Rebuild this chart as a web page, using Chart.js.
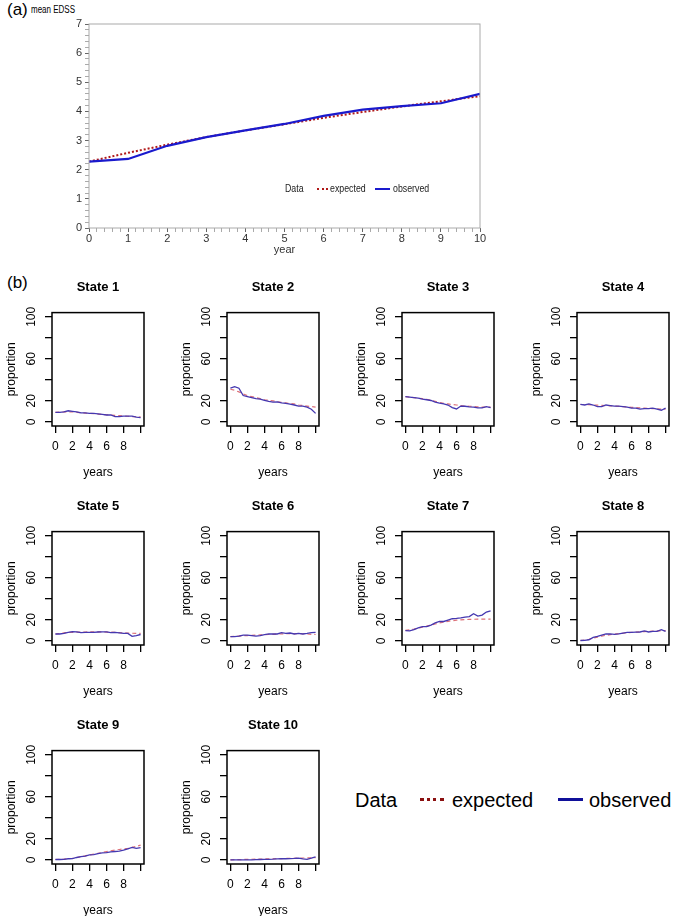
<!DOCTYPE html>
<html>
<head>
<meta charset="utf-8">
<script src="https://cdn.jsdelivr.net/npm/chart.js@4"></script>
<style>
  html, body { margin: 0; padding: 0; background: #fff; overflow: hidden; }
  body { width: 677px; height: 916px; position: relative; font-family: "Liberation Sans", Arial, sans-serif; }
  canvas { position: absolute; }
  .lbl { position: absolute; color: #000; white-space: nowrap; line-height: 1; }
  .narrow { transform: scaleX(0.8); transform-origin: 0 0; font-size: 11px; color: #222; }
  .swatch { position: absolute; height: 0; }
</style>
</head>
<body>
<div class="lbl" style="left:7px;top:1px;font-size:17px">(a)</div>
<div class="lbl narrow" style="left:31px;top:5px;font-size:10px;color:#000">mean EDSS</div>
<canvas id="edss" width="500" height="260" style="left:0;top:0"></canvas>

<div class="lbl narrow" style="left:285px;top:183px">Data</div>
<div class="swatch" style="left:317px;top:188px;width:11px;border-top:2px dotted #b01818"></div>
<div class="lbl narrow" style="left:330px;top:183px">expected</div>
<div class="swatch" style="left:375px;top:188px;width:15px;border-top:2px solid #1a1acd"></div>
<div class="lbl narrow" style="left:393px;top:183px">observed</div>

<div class="lbl" style="left:7px;top:274px;font-size:17px">(b)</div>
<div id="states"></div>

<div class="lbl" style="left:355px;top:790px;font-size:20px">Data</div>
<div class="swatch" style="left:420px;top:798px;width:24px;border-top:3px dotted #8b1010"></div>
<div class="lbl" style="left:452px;top:790px;font-size:20px">expected</div>
<div class="swatch" style="left:558px;top:798px;width:25px;border-top:3px solid #10109a"></div>
<div class="lbl" style="left:589px;top:790px;font-size:20px">observed</div>

<script>
(function () {
  'use strict';

  // (a) mean EDSS by year
  var years = [0, 1, 2, 3, 4, 5, 6, 7, 8, 9, 10];
  var edssExpected = [2.28, 2.58, 2.86, 3.12, 3.35, 3.56, 3.78, 3.98, 4.17, 4.35, 4.52];
  var edssObserved = [2.28, 2.37, 2.82, 3.12, 3.35, 3.57, 3.85, 4.06, 4.18, 4.28, 4.60];

  // (b) proportion in each state, read every half year
  var halfYears = [0, 0.5, 1, 1.5, 2, 2.5, 3, 3.5, 4, 4.5, 5, 5.5, 6, 6.5, 7, 7.5, 8, 8.5, 9, 9.5, 10];
  var stateNames = ['State 1', 'State 2', 'State 3', 'State 4', 'State 5', 'State 6', 'State 7', 'State 8', 'State 9', 'State 10'];

  var state1Obs = [9, 9, 9.5, 10.5, 10, 9.5, 8.5, 8.5, 8, 8, 7.5, 7, 6.5, 6.5, 5, 5, 5.5, 5.5, 5.5, 4.5, 4];
  var state1Exp = [9, 9.2, 9.4, 9.6, 9.4, 9, 8.6, 8.3, 8, 7.7, 7.4, 7, 6.7, 6.4, 6.1, 5.8, 5.5, 5.3, 5, 4.8, 4.6];
  var state2Obs = [32, 33.5, 32, 25, 24, 23, 22, 21.5, 20.5, 19.5, 18.7, 19, 18, 17.5, 16.8, 16, 15, 15, 14, 12, 8];
  var state2Exp = [31, 30, 28.5, 26.5, 25, 24, 23, 22, 21, 20.5, 20, 19, 18.5, 18, 17.5, 17, 16, 15.5, 15, 14.5, 14];
  var state3Obs = [24, 23.5, 23, 22.5, 21.6, 21, 20.3, 18.7, 17.7, 17, 16, 13.5, 12.2, 15, 14.8, 14.2, 13.9, 13.2, 13.2, 14.5, 13.5];
  var state3Exp = [24, 23.5, 23, 22.5, 22, 21.5, 20.5, 19.5, 18.5, 17.5, 17, 16.5, 16, 15.5, 15, 14.8, 14.5, 14.2, 14, 14, 14];
  var state4Obs = [16.5, 16, 17, 16, 14.5, 14.5, 16, 15.5, 15, 15, 14.5, 14, 13, 13, 12, 12.5, 12.6, 13, 12, 11, 13];
  var state4Exp = [16.5, 16.5, 16.3, 16, 15.8, 15.6, 15.4, 15.2, 15, 14.7, 14.4, 14.1, 13.8, 13.5, 13.2, 13, 12.8, 12.6, 12.4, 12.2, 12];
  var state5Obs = [6.5, 6.5, 7, 8, 8.7, 8.5, 7.7, 8, 8, 8, 8.4, 8.5, 8.5, 7.7, 8, 7.5, 7, 7, 4.2, 5, 6];
  var state5Exp = [6.5, 7, 7.5, 8, 8, 8.2, 8.3, 8.4, 8.5, 8.5, 8.5, 8.5, 8.3, 8.2, 8, 7.8, 7.6, 7.4, 7.2, 7, 7];
  var state6Obs = [3.9, 4, 4.5, 5.5, 5.5, 5, 4.5, 5, 5.8, 6.5, 6.5, 6.5, 7.7, 7, 7.4, 6.5, 7, 6.5, 7, 7.7, 8];
  var state6Exp = [4, 4.2, 4.5, 4.8, 5, 5.2, 5.4, 5.6, 5.8, 6, 6.2, 6.4, 6.6, 6.8, 6.8, 6.8, 6.8, 6.7, 6.5, 6.2, 6];
  var state7Obs = [9.7, 9.5, 10.6, 12.3, 13.5, 13.5, 15, 17, 18.4, 18.4, 19.7, 21, 21.3, 21.9, 22.6, 23, 25.8, 23.5, 24.5, 27.4, 28.5];
  var state7Exp = [10, 10.5, 11.2, 12, 13, 14, 15, 16, 17, 17.8, 18.5, 19.2, 19.6, 20, 20.2, 20.4, 20.5, 20.6, 20.6, 20.7, 20.7];
  var state8Obs = [0.3, 0.5, 1, 3.2, 4.2, 5.5, 6.5, 6.5, 6.1, 6.5, 7.4, 8, 8, 8.2, 8.4, 9.4, 8.4, 9, 9, 10.6, 9];
  var state8Exp = [0.3, 0.8, 1.5, 2.5, 3.5, 4.5, 5.2, 5.8, 6.3, 6.8, 7.2, 7.6, 8, 8.3, 8.6, 8.8, 9, 9.2, 9.4, 9.5, 9.6];
  var state9Obs = [0.3, 0.3, 0.5, 1, 1.2, 2.2, 3, 3.5, 4.6, 5, 5.9, 6.5, 6.9, 7.5, 7.9, 8.2, 9.2, 10.5, 11.8, 10.8, 11.5];
  var state9Exp = [0.3, 0.4, 0.6, 1, 1.5, 2.2, 3, 3.8, 4.6, 5.4, 6.2, 7, 7.8, 8.6, 9.2, 9.8, 10.4, 11, 11.8, 12.8, 14];
  var state10Obs = [0, 0, 0, 0, 0, 0, 0.2, 0.3, 0.4, 0.5, 0.6, 0.8, 1, 1, 1.2, 1.3, 1.5, 0.8, 0.5, 1.5, 2.8];
  var state10Exp = [0, 0.1, 0.2, 0.3, 0.4, 0.5, 0.6, 0.7, 0.8, 0.9, 1, 1.1, 1.2, 1.3, 1.4, 1.5, 1.6, 1.7, 1.8, 1.9, 2];

  var stateObs = [state1Obs, state2Obs, state3Obs, state4Obs, state5Obs, state6Obs, state7Obs, state8Obs, state9Obs, state10Obs];
  var stateExp = [state1Exp, state2Exp, state3Exp, state4Exp, state5Exp, state6Exp, state7Exp, state8Exp, state9Exp, state10Exp];

  var yTickValues = [0, 20, 40, 60, 80, 100];
  var yTickLabels = [0, 20, 60, 100];
  var xTickValues = [0, 2, 4, 6, 8, 10];

  var fontFamily = '"Liberation Sans", Arial, sans-serif';

  function points(xs, ys) {
    return xs.map(function (x, i) { return { x: x, y: ys[i] }; });
  }

  var boxPlugin = {
    id: 'box',
    afterDraw: function (chart, args, opts) {
      var a = chart.chartArea, ctx = chart.ctx;
      ctx.save();
      ctx.strokeStyle = opts.color;
      ctx.lineWidth = opts.width;
      ctx.strokeRect(a.left, a.top, a.right - a.left, a.bottom - a.top);
      ctx.restore();
    }
  };

  // R-style y labels, drawn parallel to the axis
  var rotYLabels = {
    id: 'rotY',
    afterDraw: function (chart) {
      var s = chart.scales.y, ctx = chart.ctx;
      ctx.save();
      ctx.font = '12px ' + fontFamily;
      ctx.fillStyle = '#000';
      ctx.textAlign = 'center';
      ctx.textBaseline = 'middle';
      yTickLabels.forEach(function (v) {
        ctx.save();
        ctx.translate(s.right - 20, s.getPixelForValue(v));
        ctx.rotate(-Math.PI / 2);
        ctx.fillText(String(v), 0, 0);
        ctx.restore();
      });
      ctx.restore();
    }
  };

  function isWhole(v) { return Math.abs(v - Math.round(v)) < 1e-6; }

  // ---- panel (a)
  new Chart(document.getElementById('edss'), {
    type: 'line',
    data: {
      datasets: [
        { label: 'observed', data: points(years, edssObserved), borderColor: '#1a1acd', borderWidth: 2.2, pointRadius: 0, tension: 0 },
        { label: 'expected', data: points(years, edssExpected), borderColor: '#b01818', borderDash: [2, 2], borderWidth: 2, pointRadius: 0, tension: 0 }
      ]
    },
    options: {
      responsive: false,
      animation: false,
      layout: { padding: { top: 24, right: 20, left: 0, bottom: 0 } },
      plugins: { legend: { display: false }, tooltip: { enabled: false }, box: { color: '#aaa', width: 1 } },
      scales: {
        x: {
          type: 'linear', min: 0, max: 10,
          afterBuildTicks: function (s) { var t = []; for (var i = 0; i <= 50; i++) t.push({ value: i / 5 }); s.ticks = t; },
          afterFit: function (s) { s.height = 32; },
          border: { display: false },
          grid: { drawOnChartArea: false, tickLength: 4, color: function (c) { return isWhole(c.tick.value) ? '#666' : '#aaa'; } },
          ticks: {
            autoSkip: false, maxRotation: 0, padding: 0, color: '#333',
            font: { family: fontFamily, size: 11 },
            callback: function (v) { return isWhole(v) ? String(Math.round(v)) : ''; }
          },
          title: { display: true, text: 'year', color: '#333', font: { family: fontFamily, size: 11 }, padding: { top: 0, bottom: 3 } }
        },
        y: {
          min: 0, max: 7,
          afterBuildTicks: function (s) { var t = []; for (var i = 0; i <= 35; i++) t.push({ value: i / 5 }); s.ticks = t; },
          afterFit: function (s) { s.width = 89; },
          border: { display: false },
          grid: { drawOnChartArea: false, tickLength: 4, color: function (c) { return isWhole(c.tick.value) ? '#666' : '#aaa'; } },
          ticks: {
            autoSkip: false, padding: 3, color: '#333',
            font: { family: fontFamily, size: 11 },
            callback: function (v) { return isWhole(v) ? String(Math.round(v)) : ''; }
          }
        }
      }
    },
    plugins: [boxPlugin]
  });

  // ---- panel (b)
  function mountState(idx) {
    var col = idx % 4, row = Math.floor(idx / 4);
    var el = document.createElement('canvas');
    el.width = 160;
    el.height = 219;
    el.style.left = (col * 175) + 'px';
    el.style.top = (275 + row * 219) + 'px';
    document.getElementById('states').appendChild(el);

    new Chart(el, {
      type: 'line',
      data: {
        datasets: [
          { label: 'observed', data: points(halfYears, stateObs[idx]), borderColor: '#4538b0', borderWidth: 1.3, pointRadius: 0, tension: 0 },
          { label: 'expected', data: points(halfYears, stateExp[idx]), borderColor: '#dc7078', borderDash: [4, 3], borderWidth: 1.2, pointRadius: 0, tension: 0 }
        ]
      },
      options: {
        responsive: false,
        animation: false,
        layout: { padding: { left: 0, right: 16, top: 0, bottom: 0 } },
        plugins: {
          legend: { display: false },
          tooltip: { enabled: false },
          box: { color: '#000', width: 1.5 },
          title: {
            display: true, text: stateNames[idx], fullSize: false, color: '#000',
            font: { family: fontFamily, size: 13, weight: 'bold' },
            padding: { top: 5, bottom: 17 }
          }
        },
        scales: {
          x: {
            type: 'linear', min: -0.4, max: 10.4,
            afterBuildTicks: function (s) { s.ticks = xTickValues.map(function (v) { return { value: v }; }); },
            afterFit: function (s) { s.height = 68; },
            border: { display: false },
            grid: { drawOnChartArea: false, tickLength: 7, color: '#000', lineWidth: 1.3 },
            ticks: {
              autoSkip: false, maxRotation: 0, padding: 6, color: '#000',
              font: { family: fontFamily, size: 12 },
              callback: function (v) { return v === 10 ? '' : String(v); }
            },
            title: { display: true, text: 'years', color: '#000', font: { family: fontFamily, size: 12 }, padding: { top: 0, bottom: 14 } }
          },
          y: {
            min: -4, max: 104,
            afterBuildTicks: function (s) { s.ticks = yTickValues.map(function (v) { return { value: v }; }); },
            afterFit: function (s) { s.width = 52; },
            border: { display: false },
            grid: { drawOnChartArea: false, tickLength: 7, color: '#000', lineWidth: 1.3 },
            ticks: { display: false },
            title: { display: true, text: 'proportion', color: '#000', font: { family: fontFamily, size: 12 }, padding: { top: 4, bottom: 0 } }
          }
        }
      },
      plugins: [boxPlugin, rotYLabels]
    });
  }

  stateNames.forEach(function (name, i) { mountState(i); });
})();
</script>
</body>
</html>
